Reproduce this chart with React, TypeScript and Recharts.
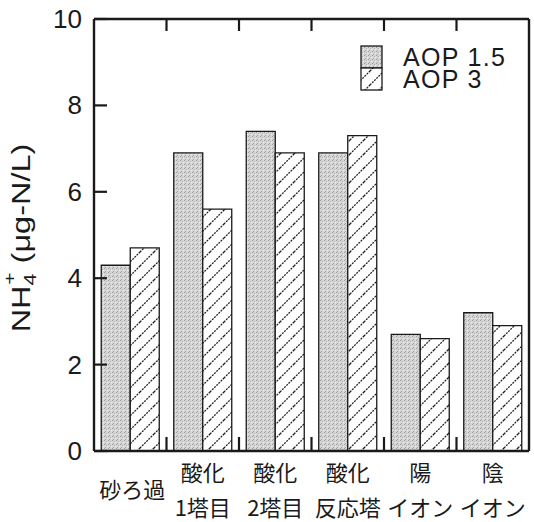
import React from "react";
import { BarChart, Bar, XAxis, YAxis } from "recharts";

const categories = ["砂ろ過", "酸化\n1塔目", "酸化\n2塔目", "酸化\n反応塔", "陽\nイオン", "陰\nイオン"];
const seriesNames = ["AOP 1.5", "AOP 3"];
const aop15 = [4.3, 6.9, 7.4, 6.9, 2.7, 3.2];
const aop3 = [4.7, 5.6, 6.9, 7.3, 2.6, 2.9];
const yTicks = [0, 2, 4, 6, 8, 10];

const data = categories.map((name, i) => ({ name, aop15: aop15[i], aop3: aop3[i] }));

const W = 534;
const H = 522;
const PLOT_LEFT = 94;
const PLOT_RIGHT = 529;
const PLOT_TOP = 19;
const PLOT_BOTTOM = 451;
const BAND = (PLOT_RIGHT - PLOT_LEFT) / categories.length;
const FONT = '"Liberation Sans", Arial, sans-serif';
const CJK = '"Noto Sans CJK JP", "Noto Sans", sans-serif';
const INK = "#1a1a1a";

function Patterns() {
  return (
    <svg width={0} height={0} style={{ position: "absolute" }}>
      <defs>
        <pattern id="stipple" width={4} height={4} patternUnits="userSpaceOnUse">
          <rect width={4} height={4} fill="#d6d6d6" />
          <rect x={0} y={0} width={1} height={1} fill="#9a9a9a" />
          <rect x={2} y={1} width={1} height={1} fill="#b0b0b0" />
          <rect x={1} y={3} width={1} height={1} fill="#a5a5a5" />
          <rect x={3} y={2} width={1} height={1} fill="#efefef" />
        </pattern>
        <pattern id="hatch" width={14} height={14} patternUnits="userSpaceOnUse">
          <rect width={14} height={14} fill="#fff" />
          <line x1={0} y1={14} x2={14} y2={0} stroke="#222" strokeWidth={1.3} strokeDasharray="2 1" />
          <line x1={-1} y1={1} x2={1} y2={-1} stroke="#222" strokeWidth={1.3} />
          <line x1={13} y1={15} x2={15} y2={13} stroke="#222" strokeWidth={1.3} />
        </pattern>
      </defs>
    </svg>
  );
}

function LeftTick({ y, payload }: any) {
  return (
    <g>
      <line x1={PLOT_LEFT} y1={y} x2={PLOT_LEFT + 13} y2={y} stroke={INK} strokeWidth={2.2} />
      <text x={82} y={y} textAnchor="end" dominantBaseline="central" fontSize={26} fontFamily={FONT} fill={INK}>
        {payload.value}
      </text>
    </g>
  );
}

function RightTick({ y }: any) {
  return <line x1={PLOT_RIGHT} y1={y} x2={PLOT_RIGHT - 13} y2={y} stroke={INK} strokeWidth={2.2} />;
}

function BottomTick({ x, payload, index }: any) {
  const lines = String(payload.value).split("\n");
  const bx = x + BAND / 2;
  return (
    <g>
      {index < categories.length - 1 && (
        <line x1={bx} y1={PLOT_BOTTOM} x2={bx} y2={PLOT_BOTTOM - 14} stroke={INK} strokeWidth={2.2} />
      )}
      {lines.length === 1 ? (
        <text x={x + 2} y={488} textAnchor="middle" dominantBaseline="central" fontSize={22} fontFamily={CJK} fill={INK}>
          {lines[0]}
        </text>
      ) : (
        lines.map((l, i) => (
          <text key={i} x={x} y={471 + i * 35} textAnchor="middle" dominantBaseline="central" fontSize={22} fontFamily={CJK} fill={INK}>
            {l}
          </text>
        ))
      )}
    </g>
  );
}

function TopTick({ x, index }: any) {
  if (index >= categories.length - 1) return <g />;
  const bx = x + BAND / 2;
  return <line x1={bx} y1={PLOT_TOP} x2={bx} y2={PLOT_TOP + 12} stroke={INK} strokeWidth={2.2} />;
}

function YLabel() {
  const cx = 30;
  const cy = 238;
  return (
    <g transform={`translate(${cx}, ${cy}) rotate(-90) scale(1.25, 1)`}>
      <text x={0} y={0} textAnchor="middle" fontSize={26} fontFamily={FONT} fill={INK}>
        NH
        <tspan fontSize={17} dy={6}>4</tspan>
        <tspan fontSize={17} dx={-9} dy={-21}>+</tspan>
        <tspan dy={15}> (μg-N/L)</tspan>
      </text>
    </g>
  );
}

function LegendBox() {
  const fills = ["url(#stipple)", "url(#hatch)"];
  return (
    <svg width={178} height={50} style={{ position: "absolute", left: 356, top: 43 }}>
      {seriesNames.map((n, i) => (
        <g key={n}>
          <rect x={5} y={3 + i * 22} width={21} height={22} fill={fills[i]} stroke={INK} strokeWidth={1.3} />
          <text x={47} y={14 + i * 22} dominantBaseline="central" fontSize={25} letterSpacing={1.3} fontFamily={FONT} fill={INK}>
            {n}
          </text>
        </g>
      ))}
    </svg>
  );
}

export default function App() {
  return (
    <div style={{ position: "absolute", left: 0, top: 0, width: W, height: H, background: "#fff" }}>
      <Patterns />
      <BarChart
        width={W}
        height={H}
        data={data}
        margin={{ top: PLOT_TOP, right: W - PLOT_RIGHT, bottom: 0, left: 0 }}
        barCategoryGap="10%"
        barGap={0}
      >
        <XAxis
          dataKey="name"
          height={H - PLOT_BOTTOM}
          interval={0}
          tickLine={false}
          axisLine={{ stroke: INK, strokeWidth: 2.4 }}
          tick={<BottomTick />}
        />
        <XAxis
          xAxisId="top"
          dataKey="name"
          orientation="top"
          mirror
          interval={0}
          tickLine={false}
          axisLine={{ stroke: INK, strokeWidth: 2.4 }}
          tick={<TopTick />}
        />
        <YAxis
          domain={[0, 10]}
          ticks={yTicks}
          width={PLOT_LEFT}
          tickLine={false}
          axisLine={{ stroke: INK, strokeWidth: 2.4 }}
          tick={<LeftTick />}
          label={<YLabel />}
        />
        <YAxis
          yAxisId="right"
          orientation="right"
          mirror
          domain={[0, 10]}
          ticks={yTicks}
          tickLine={false}
          axisLine={{ stroke: INK, strokeWidth: 2.4 }}
          tick={<RightTick />}
        />
        <Bar dataKey="aop15" name={seriesNames[0]} fill="url(#stipple)" stroke={INK} strokeWidth={1.3} isAnimationActive={false} />
        <Bar dataKey="aop3" name={seriesNames[1]} fill="url(#hatch)" stroke={INK} strokeWidth={1.3} isAnimationActive={false} />
      </BarChart>
      <LegendBox />
    </div>
  );
}
